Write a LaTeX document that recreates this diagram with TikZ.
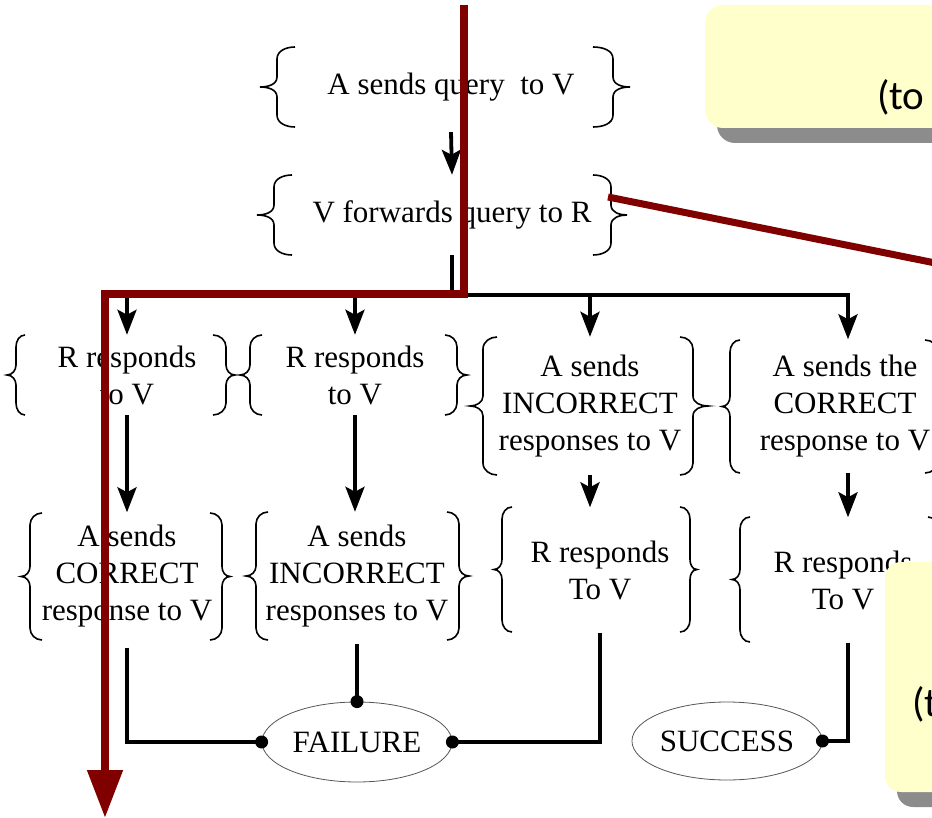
\documentclass[tikz,border=0pt]{standalone}
\usepackage{fontspec}
\setmainfont{Liberation Serif}
\newfontfamily\calfont{Carlito}
\usetikzlibrary{arrows.meta,shapes.geometric,calc}
\definecolor{darkred}{HTML}{800000}
\definecolor{calloutfill}{HTML}{FFFFCC}
\definecolor{shadowgray}{HTML}{8C8C8C}
\definecolor{ellgray}{HTML}{555555}
% left brace: arms x, top y, bottom y, spine depth, tip depth
\newcommand{\lbrc}[5]{%
 \draw[brc] (#1,#2) to[out=180,in=90] ({#1-#4},{#2+12}) -- ({#1-#4},{(#2+#3)/2-10})
   to[out=270,in=0] ({#1-#5},{(#2+#3)/2}) to[out=0,in=90] ({#1-#4},{(#2+#3)/2+10})
   -- ({#1-#4},{#3-12}) to[out=270,in=180] (#1,#3);}
\newcommand{\rbrc}[5]{%
 \draw[brc] (#1,#2) to[out=0,in=90] ({#1+#4},{#2+12}) -- ({#1+#4},{(#2+#3)/2-10})
   to[out=270,in=180] ({#1+#5},{(#2+#3)/2}) to[out=180,in=90] ({#1+#4},{(#2+#3)/2+10})
   -- ({#1+#4},{#3-12}) to[out=270,in=0] (#1,#3);}
\begin{document}
\begin{tikzpicture}[x=1pt,y=-1pt,
  brc/.style={line width=1.6pt, black},
  txt/.style={align=center, inner sep=0pt, font=\fontsize{31}{37}\selectfont},
  conn/.style={line width=3.8pt, black},
  arr/.style={conn, -{Stealth[length=25pt,width=19pt,inset=5pt]}},
  endnode/.style={ellipse, draw=ellgray, line width=0.8pt, inner sep=0pt, font=\fontsize{31}{37}\selectfont},
  redline/.style={draw=darkred, line width=8pt},
  calltext/.style={anchor=base west, inner sep=0pt, font=\calfont\fontsize{41}{48}\selectfont}]
\useasboundingbox (0,0) rectangle (932,818);
\clip (0,0) rectangle (932,818);
% nodes
\node[txt, minimum height=80pt] (Q) at (451,87) {A sends query~~to V};
\node[txt, minimum height=80pt] (F) at (452,215) {V forwards query to R};
\node[txt, minimum height=80pt] (N1) at (127,375) {R responds\\to V};
\node[txt, minimum height=80pt] (N2) at (355,375) {R responds\\to V};
\node[txt, minimum height=138pt] (N3) at (590,406) {A sends\\INCORRECT\\responses to V};
\node[txt, minimum height=133pt] (N4) at (845,406) {A sends the\\CORRECT\\response to V};
\node[txt, minimum height=127pt] (M1) at (127,576) {A sends\\CORRECT\\response to V};
\node[txt, minimum height=128pt] (M2) at (357,576) {A sends\\INCORRECT\\responses to V};
\node[txt, minimum height=125pt] (M3) at (600,570) {R responds\\To V};
\node[txt, minimum height=125pt] (M4) at (843,580) {R responds\\To V};
\node[endnode, minimum width=190pt, minimum height=80pt] (fail) at (357,742) {FAILURE};
\node[endnode, minimum width=181pt, minimum height=78pt] (succ) at (727,741) {SUCCESS};
% braces
\lbrc{295}{47}{127}{18}{35} \rbrc{593}{47}{127}{20}{37}
\lbrc{292}{175}{255}{18}{35} \rbrc{593}{175}{255}{18}{34}
\lbrc{25}{335}{415}{9}{18} \rbrc{213}{335}{415}{13}{22}
\lbrc{262}{335}{415}{12}{22} \rbrc{445}{335}{415}{12}{22}
\lbrc{497}{337}{475}{14}{27} \rbrc{680}{337}{475}{13}{28}
\lbrc{740}{340}{473}{10}{18} \rbrc{925}{340}{473}{13}{25}
\lbrc{42}{513}{640}{12}{21} \rbrc{210}{513}{640}{12}{20}
\lbrc{268}{512}{640}{12}{22} \rbrc{447}{512}{640}{12}{22}
\lbrc{512}{507}{632}{10}{18} \rbrc{680}{507}{632}{10}{17}
\lbrc{750}{517}{642}{10}{18} \rbrc{928}{517}{642}{10}{18}
% connectors
\draw[arr] ([yshift=-5pt]Q.south) -- (F.north);
\draw[conn] (F.south) -- ++(0,40) coordinate (jn);
\draw[arr] (jn) -| (N1.north);
\draw[arr] (jn) -| (N2.north);
\draw[arr] (jn) -| (N3.north);
\draw[arr] (jn) -| ([xshift=3pt]N4.north);
\draw[arr] (N1.south) -- (N1.south |- M1.north);
\draw[arr] (N2.south) -- (N2.south |- M2.north);
\draw[arr] (N3.south) -- (N3.south |- M3.north);
\draw[arr] ([xshift=3pt]N4.south) -- ([xshift=3pt]N4.south |- M4.north);
\draw[conn] ([yshift=-8pt]M1.south) |- (fail.west);
\draw[conn] ([yshift=-4pt]M2.south) -- (fail.north);
\draw[conn] (M3.south) |- (fail.east);
\draw[conn] ([xshift=5pt]M4.south) |- (succ.east);
\fill (fail.west) circle (6.5pt);
\fill (fail.north) circle (6.5pt);
\fill (fail.east) circle (6.5pt);
\fill (succ.east) circle (6.5pt);
% red overlay arrows
\coordinate (r0) at (464,5);
\coordinate (r1) at (464,294);
\coordinate (r2) at (105,294);
\coordinate (r3) at (105,818);
\draw[redline, -{Triangle[length=48pt,width=34pt]}] (r0) -- (r1) -- (r2) -- (r3);
\coordinate (d0) at (608,197);
\coordinate (d1) at (970,270);
\draw[redline, line width=7pt] (d0) -- (d1);
% callouts
\fill[shadowgray, rounded corners=18pt] (717,20) rectangle (990,143);
\fill[calloutfill, rounded corners=18pt] (705,5) rectangle (980,128);
\node[calltext] (c1) at (877,110) {(to};
\fill[shadowgray, rounded corners=16pt] (897,577) rectangle (990,807);
\fill[calloutfill, rounded corners=16pt] (885,562) rectangle (980,792);
\node[calltext] (c2) at (912,716) {(t};
\end{tikzpicture}
\end{document}
